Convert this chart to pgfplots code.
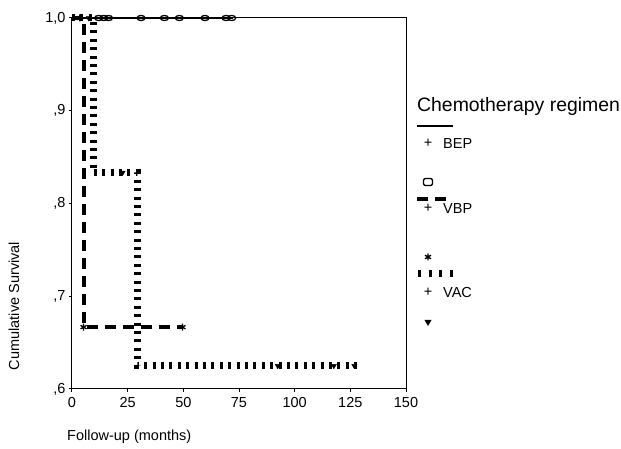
\documentclass[border=0pt]{standalone}
\usepackage{pgfplots}
\pgfplotsset{compat=1.18}
\usepackage{fontspec}
\setmainfont{Liberation Sans}

\begin{document}
\begin{tikzpicture}
  \begin{axis}[
      at={(0,0)}, anchor=south west,
      scale only axis,
      width=334pt, height=371pt,
      xmin=0, xmax=150,
      ymin=0.6, ymax=1.0,
      xtick={0,25,50,75,100,125,150},
      ytick={0.6,0.7,0.8,0.9,1.0},
      yticklabels={{,6},{,7},{,8},{,9},{1,0}},
      xtick pos=bottom, ytick pos=left,
      tick align=outside,
      major tick length=3pt,
      tick style={black, line width=1pt},
      axis line style={line width=1pt},
      every tick label/.append style={font=\fontsize{14.5}{17}\selectfont},
      /pgf/number format/assume math mode=true,
      xticklabel style={yshift=-2pt},
      clip=false,
    ]
    % BEP
    \addplot[const plot, black, line width=2.8pt] coordinates {
      (0,1.0) (72.5,1.0)
    };
    \addplot[only marks, mark=o, mark size=3pt,
      mark options={line width=1.3pt, xscale=1.35, yscale=0.85}] coordinates {
      (12,1.0) (14.3,1.0) (16.4,1.0) (31,1.0) (41.5,1.0) (48.2,1.0)
      (59.7,1.0) (69.2,1.0) (71.7,1.0)
    };
    % VBP
    \addplot[const plot, black, line width=3.5pt, dash pattern=on 11pt off 7pt]
      coordinates {
      (0,1.0) (5.5,1.0) (5.5,0.6667) (49.6,0.6667)
    };
    \addplot[only marks, mark=asterisk, mark size=3.5pt,
      mark options={line width=1.3pt}] coordinates {
      (3.5,1.0) (5.2,0.6667) (49.6,0.6667)
    };
    % VAC
    \addplot[const plot, black, line width=7pt, dash pattern=on 3pt off 5.4pt]
      coordinates {
      (0,1.0) (9.5,1.0) (9.5,0.8333) (29.2,0.8333) (29.2,0.625) (128.5,0.625)
    };
    \addplot[only marks, mark=triangle*, mark size=3pt,
      mark options={rotate=180}] coordinates {
      (7.5,1.0) (22.7,0.8333) (92.4,0.625) (117.6,0.625) (126.8,0.625)
    };
  \end{axis}

  % axis titles
  \node[rotate=90, font=\fontsize{14.5}{17}\selectfont] at (-58pt,83pt)
    {Cumulative Survival};
  \node[anchor=west, font=\fontsize{14.5}{17}\selectfont, inner sep=0pt]
    at (-5pt,-48pt) {Follow-up (months)};

  % legend
  \node[anchor=base west, inner sep=0pt, font=\fontsize{19.4}{23}\selectfont]
    at (345pt,277pt) {Chemotherapy regimen};
  \begin{scope}[font=\fontsize{14.5}{17}\selectfont]
    \draw[line width=2.8pt] (345pt,263pt) -- (381pt,263pt);
    \node at (356pt,246pt) {+};
    \node[anchor=west, inner sep=0pt] at (371pt,245pt) {BEP};
    \draw[line width=1.3pt, rounded corners=2pt]
      (351.5pt,203.5pt) rectangle (360.5pt,210.5pt);
    \draw[line width=3.5pt, dash pattern=on 11pt off 7pt]
      (345pt,190pt) -- (381pt,190pt);
    \node at (356pt,181pt) {+};
    \node[anchor=west, inner sep=0pt] at (371pt,180pt) {VBP};
    \draw[line width=1.3pt] (356pt,128.5pt) -- (356pt,135.5pt)
      (353pt,130.2pt) -- (359pt,133.8pt) (353pt,133.8pt) -- (359pt,130.2pt);
    \draw[line width=7pt, dash pattern=on 3pt off 7.5pt]
      (346pt,115pt) -- (381pt,115pt);
    \node at (356pt,97pt) {+};
    \node[anchor=west, inner sep=0pt] at (371pt,96pt) {VAC};
    \fill (352.5pt,69pt) -- (359.5pt,69pt) -- (356pt,63pt) -- cycle;
  \end{scope}

  \pgfresetboundingbox
  \path (-72pt,-60pt) rectangle (549pt,389pt);
\end{tikzpicture}
\end{document}
